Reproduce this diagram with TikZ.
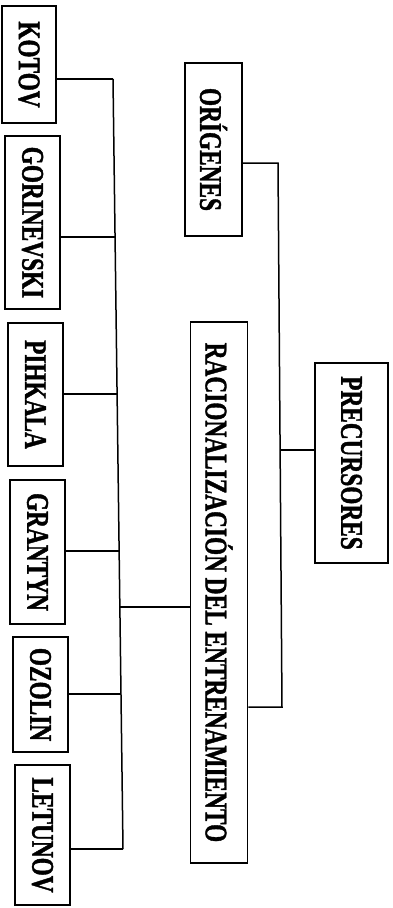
\documentclass[tikz,border=0pt]{standalone}
\usepackage{fontspec}
\setmainfont{Liberation Serif}[FakeStretch=0.74,BoldFeatures={FakeBold=1.2}]
\newcommand\vtext[1]{\rotatebox{-90}{\bfseries #1}}
\begin{document}
\begin{tikzpicture}[x=1pt,y=-1pt,
  box/.style={draw, line width=1.7pt, inner sep=0pt, font=\fontsize{31.5}{31.5}\selectfont},
  conn/.style={draw, line width=1.5pt}]
\useasboundingbox (0,0) rectangle (393,908);
% left column
\node[box, minimum width=54pt, minimum height=117pt] (kotov) at (29,64.5) {\vtext{KOTOV}};
\node[box, minimum width=55pt, minimum height=173pt] (gori) at (32.5,222.5) {\vtext{GORINEVSKI}};
\node[box, minimum width=55pt, minimum height=143pt] (pihk) at (35.5,394.5) {\vtext{PIHKALA}};
\node[box, minimum width=55pt, minimum height=144pt] (gran) at (37.5,552) {\vtext{GRANTYN}};
\node[box, minimum width=55pt, minimum height=115pt] (ozol) at (40.5,694.5) {\vtext{OZOLIN}};
\node[box, minimum width=55pt, minimum height=140pt] (letu) at (42.5,835) {\vtext{LETUNOV}};
% middle column
\node[box, minimum width=57pt, minimum height=173pt] (orig) at (213.5,149.5) {\vtext{ORÍGENES}};
\node[box, minimum width=57pt, minimum height=541pt] (raci) at (219,592.5) {\vtext{RACIONALIZACIÓN DEL ENTRENAMIENTO}};
% right
\node[box, minimum width=73pt, minimum height=200pt] (prec) at (351.5,463) {\vtext{PRECURSORES}};
% bar coordinates
\coordinate (b1) at (113,79);
\coordinate (b2) at (115,237);
\coordinate (b3) at (117,394);
\coordinate (b4) at (118.5,551);
\coordinate (b5) at (120.5,694);
\coordinate (b6) at (123,849);
\coordinate (b7) at (119.5,607);
\draw[conn] (kotov.east |- b1) -- (b1);
\draw[conn] (gori.east |- b2) -- (b2);
\draw[conn] (pihk.east |- b3) -- (b3);
\draw[conn] (gran.east |- b4) -- (b4);
\draw[conn] (ozol.east |- b5) -- (b5);
\draw[conn] (letu.east |- b6) -- (b6);
\draw[conn] (b1) -- (b6);
\draw[conn] (b7) -- (raci.west |- b7);
% origenes / racionalizacion joint
\coordinate (o1) at (278,163);
\coordinate (o2) at (282,707);
\coordinate (p1) at (280,450);
\draw[conn] (orig.east |- o1) -- (o1) -- (o2) -- (raci.east |- o2);
\draw[conn] (p1) -- (prec.west |- p1);
\end{tikzpicture}
\end{document}
